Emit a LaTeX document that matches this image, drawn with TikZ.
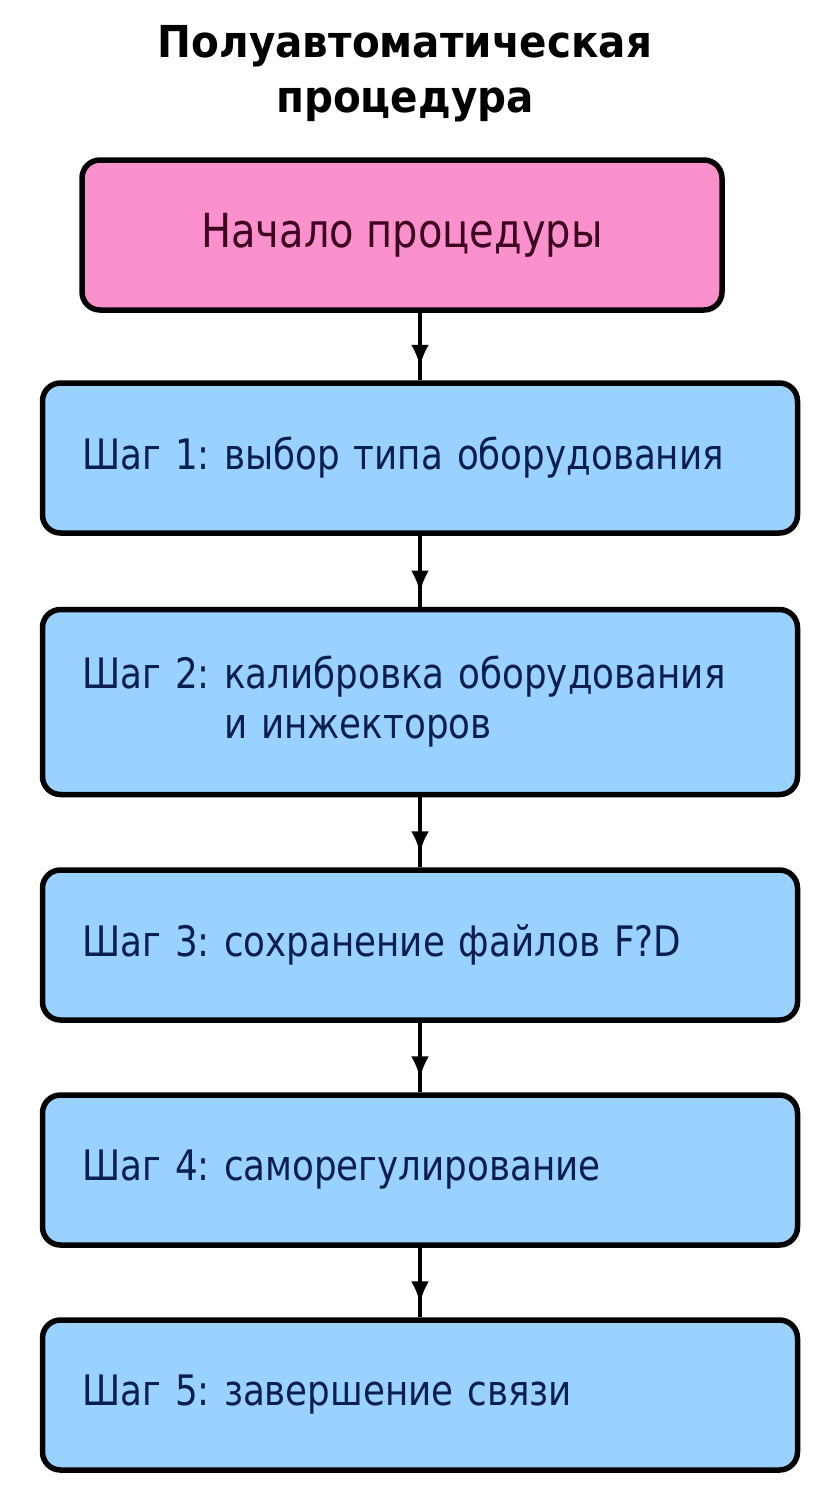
\documentclass[tikz,border=0pt]{standalone}
\usepackage{fontspec}
\setmainfont{DejaVu Sans}[FakeStretch=0.85]
\newfontfamily\titlefont{DejaVu Sans}[FakeStretch=0.92]
\usetikzlibrary{arrows.meta,decorations.markings}
\frenchspacing

\definecolor{startpink}{RGB}{250,145,205}
\definecolor{stepblue}{RGB}{153,210,255}
\definecolor{steptext}{RGB}{12,30,80}
\definecolor{starttext}{RGB}{60,0,30}

\begin{document}
\begin{tikzpicture}[
        x=1pt,y=-1pt,
        box/.style={draw=black,line width=5.5pt,rounded corners=18pt},
        startbox/.style={box,fill=startpink,text=starttext,minimum width=640pt,minimum height=150pt,
            font=\fontsize{47}{52}\selectfont},
        stepbox/.style={box,fill=stepblue,text=steptext,text width=675pt,inner xsep=40pt,
            align=left,minimum height=150pt,font=\fontsize{42}{50}\selectfont},
        flow/.style={line width=4pt,postaction={decorate},
            decoration={markings,mark=at position 0.8 with {\arrow{Latex[length=22pt,width=18pt]}}}}]

    \useasboundingbox (0,0) rectangle (835,1500);

    \node[font=\titlefont\bfseries\fontsize{44}{55}\selectfont,align=center] (title) at (405,74)
        {Полуавтоматическая\\процедура};

    \node[startbox] (start) at (402,235) {Начало процедуры};
    \node[stepbox] (step1) at (420,458) {\mbox{Шаг 1: выбор типа оборудования}};
    \node[stepbox,minimum height=185pt] (step2) at (420,702) {\mbox{Шаг 2: калибровка оборудования}\\
        \mbox{\phantom{Шаг 2: }и инжекторов}};
    \node[stepbox] (step3) at (420,945) {\mbox{Шаг 3: сохранение файлов F?D}};
    \node[stepbox] (step4) at (420,1170) {\mbox{Шаг 4: саморегулирование}};
    \node[stepbox] (step5) at (420,1395) {\mbox{Шаг 5: завершение связи}};

    % connectors
    \draw[flow] (start.south -| step1.north) -- (step1.north);
    \draw[flow] (step1.south) -- (step2.north);
    \draw[flow] (step2.south) -- (step3.north);
    \draw[flow] (step3.south) -- (step4.north);
    \draw[flow] (step4.south) -- (step5.north);
\end{tikzpicture}
\end{document}
